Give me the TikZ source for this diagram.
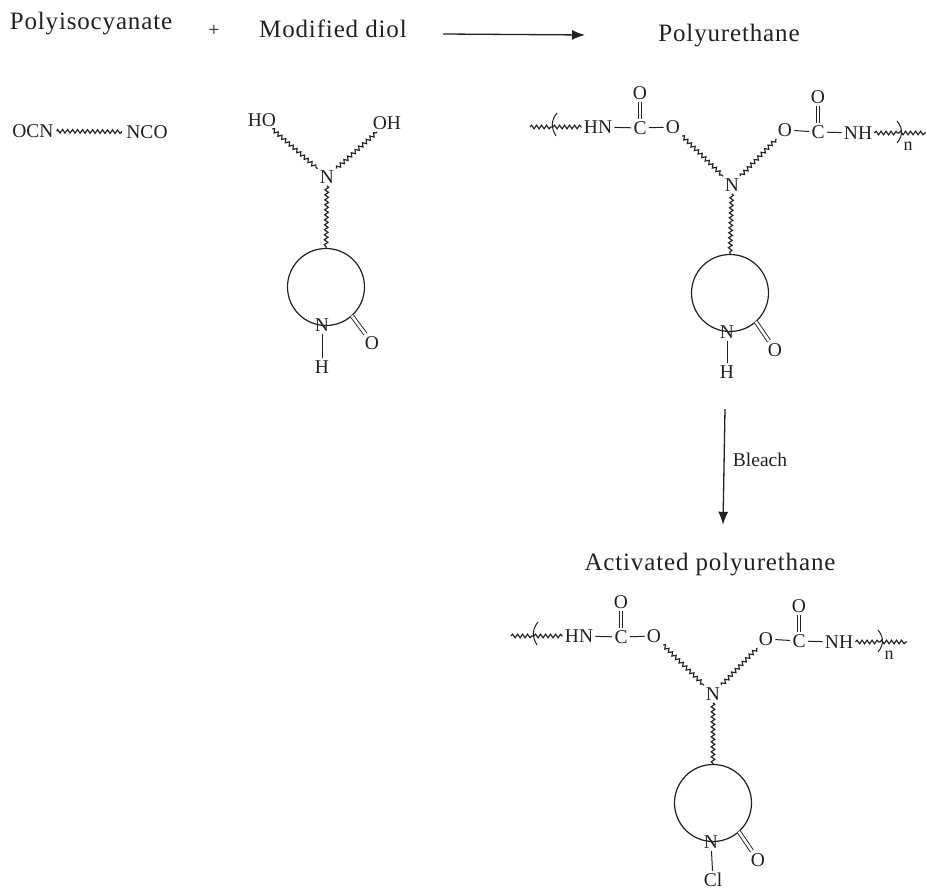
\documentclass[tikz,border=0pt]{standalone}
\usepackage{fontspec}
\setmainfont{Liberation Serif}
\newfontfamily\titlefont[LetterSpace=3.4]{Liberation Serif}
\usetikzlibrary{decorations.pathmorphing,arrows.meta,calc}
\definecolor{ink}{gray}{0.13}
\tikzset{
  atom/.style={inner sep=2.2pt,text=ink,font=\fontsize{19.5}{21}\selectfont},
  subs/.style={inner sep=0pt,text=ink,font=\fontsize{18}{20}\selectfont},
  title/.style={inner sep=0pt,text=ink,font=\titlefont\fontsize{25}{28}\selectfont},
  wavy/.style={draw=ink,line width=1.15pt,decorate,decoration={snake,segment length=5pt,amplitude=1.8pt}},
  bond/.style={draw=ink,line width=1pt},
  dbond/.style={draw=ink,double,double distance=2.6pt,line width=0.9pt},
  ringc/.style={draw=ink,circle,line width=1.2pt,minimum size=77pt,inner sep=0pt},
  reaction/.style={draw=ink,line width=1.3pt,-{Latex[length=13pt,width=10pt]}},
  paren/.style={draw=ink,line width=1pt},
  pt/.style={inner sep=0pt,minimum size=0pt}
}
% lactam ring: #1 prefix, #2 ring centre, #3 N, #4 O, #5 substituent pos, #6 substituent
\newcommand{\lactam}[6]{
  \node[ringc] (#1ring) at #2 {};
  \node[atom] (#1rN) at #3 {N};
  \node[atom] (#1rO) at #4 {O};
  \node[atom] (#1sub) at #5 {#6};
  \coordinate (#1co) at ($(#1ring.center)+(48:38.5)$);
  \draw[bond] (#1rN) -- (#1sub);
  \draw[dbond] (#1co) -- (#1rO);
}
\newcommand{\polymer}[2]{
  \begin{scope}[shift={#2}]
  \node[atom] (#1N) at (732,185) {N};
  \node[atom] (#1HN) at (598,127) {HN};
  \node[atom] (#1Cl) at (640,128) {C};
  \node[atom] (#1Ol) at (673,127) {O};
  \node[atom] (#1Otl) at (640,93) {O};
  \node[atom] (#1Or) at (785,130) {O};
  \node[atom] (#1Cr) at (818,132) {C};
  \node[atom] (#1NH) at (858,133) {NH};
  \node[atom] (#1Otr) at (818,97) {O};
  \node[subs] (#1n) at (908,146) {n};
  \coordinate (#1a) at (530,127);
  \coordinate (#1b) at (553,127);
  \coordinate (#1d) at (899,133);
  \coordinate (#1e) at (926,133);
  \draw[wavy] (#1a) -- (#1b);
  \draw[paren] (557,113) .. controls (551,120) and (551,128) .. (556,136);
  \draw[wavy] (#1b) -- (#1HN);
  \draw[bond] (#1HN) -- (#1Cl);
  \draw[bond] (#1Cl) -- (#1Ol);
  \draw[dbond] (#1Cl) -- (#1Otl);
  \draw[wavy] (#1Ol) -- (#1N);
  \draw[wavy] (#1N) -- (#1Or);
  \draw[bond] (#1Or) -- (#1Cr);
  \draw[bond] (#1Cr) -- (#1NH);
  \draw[dbond] (#1Cr) -- (#1Otr);
  \draw[wavy] (#1NH) -- (#1d);
  \draw[paren] (897,121) .. controls (903,128) and (903,136) .. (897,143);
  \draw[wavy] (#1d) -- (#1e);
  \end{scope}
}
\begin{document}
\begin{tikzpicture}[x=1pt,y=-1pt]
\useasboundingbox (0,0) rectangle (927,890);
% headings
\node[title] (t1) at (91,24) {Polyisocyanate};
\node[inner sep=0pt,text=ink,font=\fontsize{20}{22}\selectfont] (plus) at (214,31) {+};
\node[title] (t2) at (333,29) {Modified diol};
\node[title] (t3) at (729,36) {Polyurethane};
\node[title] (t4) at (710,565) {Activated polyurethane};
\node[inner sep=0pt,text=ink,font=\fontsize{19.5}{21}\selectfont] (bl) at (760,460) {Bleach};
\coordinate (a1s) at (443,34);
\coordinate (a1e) at (585,35);
\draw[reaction] (a1s) -- (a1e);
\node[pt] (a2s) at (725,409) {};
\node[pt] (a2e) at (723,525) {};
\draw[reaction] (a2s) -- (a2e);
% diisocyanate
\node[atom] (ocn) at (33,131) {OCN};
\node[atom] (nco) at (147,132) {NCO};
\draw[wavy,shorten <=2pt,shorten >=2pt] (ocn) -- (nco);
% diol
\node[atom] (dN) at (327,177) {N};
\node[atom] (dHO) at (262,120) {HO};
\node[atom] (dOH) at (387,123) {OH};
\draw[wavy] (dHO) -- (dN);
\draw[wavy] (dN) -- (dOH);
\lactam{d}{(326,287)}{(322,325)}{(372,343)}{(322,367)}{H}
\draw[wavy] (dN) -- (dring.north);
% polyurethane
\polymer{p}{(0,0)}
\lactam{p}{(730,293)}{(727,332)}{(775,350)}{(727,372)}{H}
\draw[wavy] (pN) -- (pring.north);
% activated
\polymer{q}{(-19,509)}
\lactam{q}{(713,803)}{(711,842)}{(758,860)}{(713,880)}{Cl}
\draw[wavy] (qN) -- (qring.north);
\end{tikzpicture}
\end{document}
